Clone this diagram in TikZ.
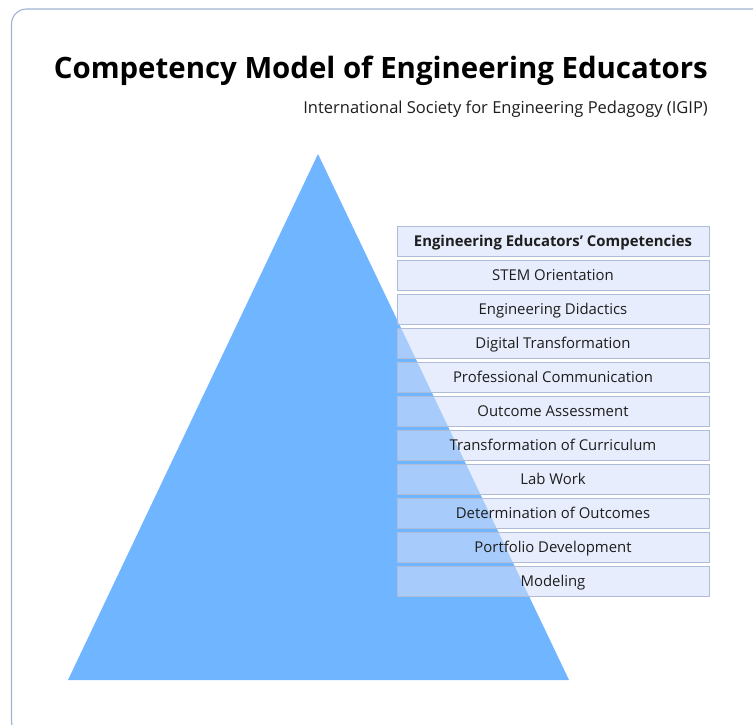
\documentclass[tikz,border=0pt]{standalone}
\usepackage{fontspec}
\setmainfont{Open Sans}
\definecolor{frame}{HTML}{A0B4D2}
\definecolor{pyr}{HTML}{70B5FF}
\definecolor{boxfill}{HTML}{D5E0FA}
\definecolor{boxline}{HTML}{AEBCD8}
\definecolor{txt}{HTML}{1E1E1E}
\tikzset{
  compbox/.style={draw=boxline, line width=0.9pt, fill=boxfill, fill opacity=0.55, text opacity=1,
    minimum width=312pt, minimum height=30pt, inner sep=0pt, text height=13.6pt, text depth=3pt,
    text=txt, font=\fontsize{14.9}{17}\selectfont},
}
\begin{document}
\begin{tikzpicture}[x=1pt,y=-1pt]
\useasboundingbox (0,0) rectangle (753,724);
\clip (0,0) rectangle (753,724);
\fill[white] (0,0) rectangle (753,724);
\draw[frame, line width=1.1pt, rounded corners=15pt] (11.5,9) rectangle (790,736);
\node[anchor=base east, font=\fontsize{29.4}{33}\selectfont\bfseries, text=black, inner sep=0pt] (title) at (708,78) {Competency Model of Engineering Educators};
\node[anchor=base east, font=\fontsize{16.5}{19}\selectfont, text=txt, inner sep=0pt] (sub) at (708,113) {International Society for Engineering Pedagogy (IGIP)};
\fill[pyr] (318,154) coordinate (apex) -- (569,680) coordinate (br) -- (68,680) coordinate (bl) -- cycle;
\foreach \i/\t in {0/{\textbf{Engineering Educators’ Competencies}},1/STEM Orientation,2/Engineering Didactics,3/Digital Transformation,4/Professional Communication,5/Outcome Assessment,6/Transformation of Curriculum,7/Lab Work,8/Determination of Outcomes,9/Portfolio Development,10/Modeling}{
  \node[compbox] (b\i) at (553, 241.5+34*\i) {\t};
}
\end{tikzpicture}
\end{document}
